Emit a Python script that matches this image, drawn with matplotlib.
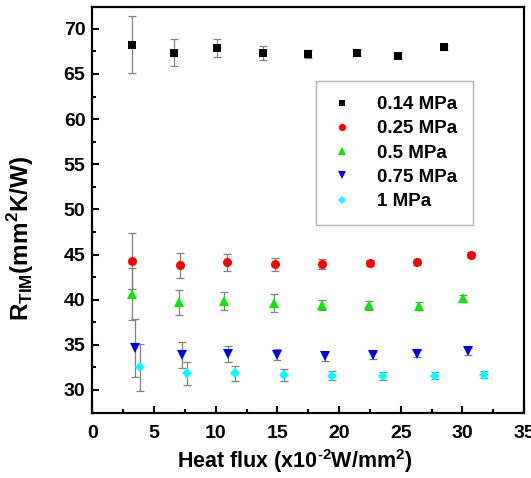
import matplotlib
matplotlib.use("Agg")
import matplotlib.pyplot as plt
from matplotlib.ticker import MultipleLocator

plt.rcParams["font.family"] = ["Liberation Sans", "DejaVu Sans"]
plt.rcParams["font.weight"] = "bold"
plt.rcParams["mathtext.fontset"] = "custom"
plt.rcParams["mathtext.rm"] = "Liberation Sans:bold"
plt.rcParams["mathtext.bf"] = "Liberation Sans:bold"

labels = ["0.14 MPa", "0.25 MPa", "0.5 MPa", "0.75 MPa", "1 MPa"]
colors = ["#000000", "#ff0000", "#00ee00", "#0000ff", "#00ffff"]
markers = ["s", "o", "^", "v", "D"]

x_014 = [3.18, 6.64, 10.07, 13.8, 17.45, 21.47, 24.8, 28.5]
y_014 = [68.26, 67.33, 67.84, 67.33, 67.22, 67.33, 67.03, 67.96]
e_014 = [3.15, 1.5, 1.0, 0.75, 0.4, 0.3, 0.3, 0.3]

x_025 = [3.23, 7.1, 10.93, 14.8, 18.64, 22.48, 26.35, 30.67]
y_025 = [44.29, 43.81, 44.14, 43.92, 44.0, 44.07, 44.18, 44.96]
e_025 = [3.1, 1.4, 0.93, 0.7, 0.55, 0.35, 0.35, 0.3]

x_05 = [3.2, 7.05, 10.69, 14.72, 18.64, 22.45, 26.5, 30.05]
y_05 = [40.6, 39.73, 39.84, 39.62, 39.37, 39.37, 39.33, 40.22]
e_05 = [2.9, 1.4, 0.96, 0.96, 0.55, 0.5, 0.45, 0.3]

x_075 = [3.45, 7.23, 11.01, 14.94, 18.86, 22.73, 26.35, 30.48]
y_075 = [34.67, 33.92, 34.0, 33.89, 33.74, 33.84, 34.0, 34.29]
e_075 = [3.2, 1.45, 0.85, 0.6, 0.5, 0.4, 0.4, 0.4]

x_1 = [3.85, 7.64, 11.56, 15.53, 19.4, 23.58, 27.78, 31.75]
y_1 = [32.5, 31.84, 31.84, 31.66, 31.59, 31.51, 31.59, 31.7]
e_1 = [2.6, 1.25, 0.87, 0.65, 0.5, 0.45, 0.4, 0.4]

series = [(x_014, y_014, e_014), (x_025, y_025, e_025), (x_05, y_05, e_05),
          (x_075, y_075, e_075), (x_1, y_1, e_1)]
msizes = [5.2, 6.5, 7, 7, 5.5]

fig = plt.figure(figsize=(5.31, 4.78), dpi=100)
ax = fig.add_axes([0.174, 0.135, 0.813, 0.85])

for (xs, ys, es), lab, c, m, ms in zip(series, labels, colors, markers, msizes):
    ax.errorbar(xs, ys, yerr=es, fmt="none", ecolor="#808080", elinewidth=0.9,
                capsize=3, capthick=0.9, zorder=2)
    ax.plot(xs, ys, ls="none", marker=m, color=c, markersize=ms,
            markeredgewidth=0, label=lab, zorder=3)

ax.set_xlim(0, 35)
ax.set_ylim(27.4, 72.4)
ax.xaxis.set_major_locator(MultipleLocator(5))
ax.xaxis.set_minor_locator(MultipleLocator(2.5))
ax.yaxis.set_major_locator(MultipleLocator(5))
ax.yaxis.set_minor_locator(MultipleLocator(2.5))
ax.tick_params(which="both", direction="in", top=False, right=False,
               width=1.5, labelsize=14)
ax.tick_params(which="major", length=5)
ax.tick_params(axis="x", which="major", pad=8)
ax.tick_params(axis="y", which="major", pad=5)
ax.tick_params(which="minor", length=3)
for s in ax.spines.values():
    s.set_linewidth(1.6)

ax.set_xlabel("Heat flux (x10$^{\\mathbf{\u2010}\\mathbf{2}}$W/mm$^{\\mathbf{2}}$)",
              fontsize=15.5, fontweight="bold")
ax.set_ylabel(r"R$_{\mathbf{TIM}}$(mm$^{\mathbf{2}}$K/W)",
              fontsize=17.5, fontweight="bold")
# label placement to match the original layout
ax.xaxis.set_label_coords(0.47, -0.083)
ax.yaxis.set_label_coords(-0.13, 0.43)

leg = ax.legend(loc="upper left", bbox_to_anchor=(0.517, 0.818),
                borderaxespad=0, fontsize=13.5, frameon=True, fancybox=False,
                edgecolor="#a0a0a0", handlelength=1.2, handletextpad=1.3,
                labelspacing=0.38, borderpad=0.8, markerscale=0.8)
leg.get_frame().set_linewidth(1.0)
for t in leg.get_texts():
    t.set_fontweight("bold")

fig.savefig("out.png", dpi=100)
